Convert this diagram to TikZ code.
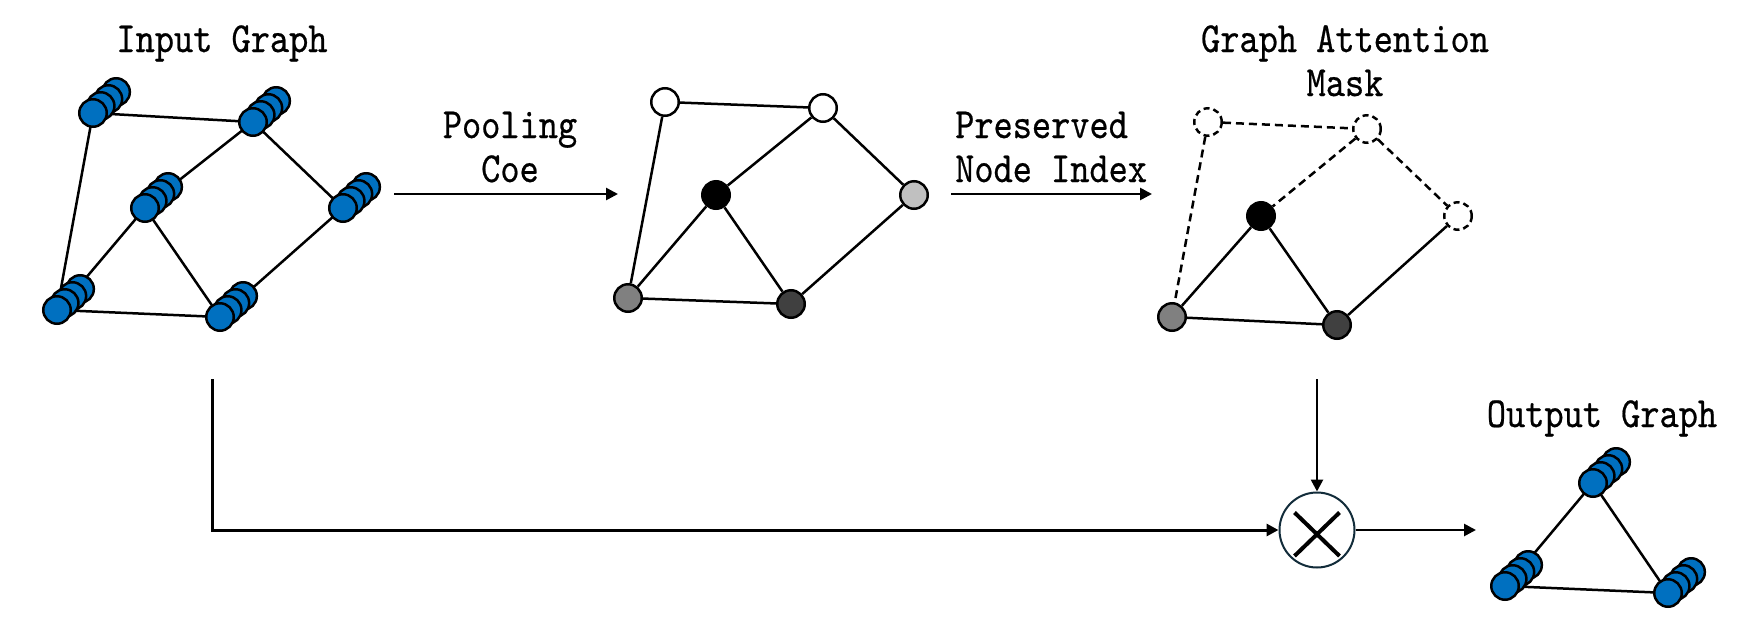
\documentclass[tikz,border=0pt]{standalone}
\usepackage{fontspec}
\newfontfamily\labfont[FakeStretch=0.85,FakeBold=0.5]{lmmono10-regular.otf}
\usetikzlibrary{arrows.meta,backgrounds,calc}
\definecolor{nblue}{RGB}{0,112,192}
\definecolor{ngray}{RGB}{128,128,128}
\definecolor{ndark}{RGB}{64,64,64}
\definecolor{nlight}{RGB}{192,192,192}
\definecolor{navy}{RGB}{18,44,58}
\newcommand\fstack[3]{%
  \node[bnode] (#1-3) at (#2+23.1,#3-21) {};
  \node[bnode] (#1-2) at (#2+15.4,#3-14) {};
  \node[bnode] (#1-1) at (#2+7.7,#3-7) {};
  \node[bnode] (#1) at (#2,#3) {};}
\begin{document}
\begin{tikzpicture}[x=1pt,y=-1pt,
  lbl/.style={font=\labfont\fontsize{43}{44}\selectfont, inner sep=0pt},
  gn/.style={circle, draw=black, line width=2.5pt, minimum size=27.5pt, inner sep=0pt},
  bnode/.style={gn, fill=nblue},
  dn/.style={gn, fill=white, dash pattern=on 6pt off 4pt},
  edge/.style={line width=2.5pt},
  dedge/.style={edge, dash pattern=on 8pt off 5pt},
  arr/.style={line width=2.6pt, -{Triangle[length=12pt,width=12pt]}},
]
\begin{scope}[on background layer]
  \fill[white] (0,0) rectangle (1741,635);
\end{scope}
\useasboundingbox (0,0) rectangle (1741,635);

% ---------- Input graph ----------
\fstack{A}{93}{113}
\fstack{B}{253}{122}
\fstack{C}{145}{208}
\fstack{D}{343}{208}
\fstack{E}{57}{310}
\fstack{F}{220}{317}
\begin{scope}[on background layer]
  \draw[edge] (A.center) -- (B.center);
  \draw[edge] (A.center) -- (E.center);
  \draw[edge] (B.center) -- (C-1.center);
  \draw[edge] (B.center) -- (D.center);
  \draw[edge] (C.center) -- (E-1.center);
  \draw[edge] (C.center) -- (F.center);
  \draw[edge] (E.center) -- (F.center);
  \draw[edge] (D.center) -- (F-1.center);
\end{scope}

% ---------- Pooled graph ----------
\node[gn, fill=white]  (w1) at (665,102) {};
\node[gn, fill=white]  (w2) at (823,108) {};
\node[gn, fill=black]  (k)  at (716,195) {};
\node[gn, fill=nlight] (l)  at (914,195) {};
\node[gn, fill=ngray]  (g)  at (628,298) {};
\node[gn, fill=ndark]  (d)  at (791,304) {};
\draw[edge] (w1) -- (w2);
\draw[edge] (w1) -- (g);
\draw[edge] (w2) -- (k);
\draw[edge] (w2) -- (l);
\draw[edge] (l) -- (d);
\draw[edge] (k) -- (g);
\draw[edge] (k) -- (d);
\draw[edge] (g) -- (d);

% ---------- Attention mask graph ----------
\node[dn]              (m1) at (1208,122) {};
\node[dn]              (m2) at (1367,129) {};
\node[dn]              (m3) at (1458,216) {};
\node[gn, fill=black]  (mk) at (1261,216) {};
\node[gn, fill=ngray]  (mg) at (1172,317) {};
\node[gn, fill=ndark]  (md) at (1337,325) {};
\draw[dedge] (m1) -- (m2);
\draw[dedge] (m1) -- (mg);
\draw[dedge] (m2) -- (mk);
\draw[dedge] (m2) -- (m3);
\draw[edge] (m3) -- (md);
\draw[edge] (mk) -- (mg);
\draw[edge] (mk) -- (md);
\draw[edge] (mg) -- (md);

% ---------- Output graph ----------
\fstack{ot}{1593}{483}
\fstack{ol}{1505}{586}
\fstack{or}{1668}{593}
\begin{scope}[on background layer]
  \draw[edge] (ot.center) -- (ol-1.center);
  \draw[edge] (ot.center) -- (or.center);
  \draw[edge] (ol.center) -- (or.center);
\end{scope}

% ---------- Multiplication ----------
\node[circle, draw=navy, line width=2pt, minimum size=75pt, inner sep=0pt] (mul) at (1317,530) {};
\draw[line width=4pt] ([shift={(-22.5,-17.5)}]mul.center) -- ([shift={(22.5,26)}]mul.center);
\draw[line width=4pt] ([shift={(22.5,-17.5)}]mul.center) -- ([shift={(-22.5,26)}]mul.center);

% ---------- Arrows ----------
\coordinate (a1s) at (394,194);
\coordinate (a1e) at (618,194);
\draw[arr] (a1s) -- (a1e);
\coordinate (a2s) at (951,194);
\coordinate (a2e) at (1152,194);
\draw[arr] (a2s) -- (a2e);
\coordinate (ms) at (1317,379);
\draw[arr] (ms) -- (mul.north);
\coordinate (is) at (212,379);
\draw[arr, line width=3pt] (is) |- (mul.west);
\coordinate (oe) at (1476,530);
\draw[arr] (mul.east) -- (oe);

% ---------- Labels ----------
\node[lbl, anchor=base] (tin) at (222,52) {Input Graph};
\node[lbl, anchor=base, align=center] (tpool) at (510,182) {Pooling\\Coe};
\node[lbl, anchor=base west, align=left] (tpres) at (955,182) {Preserved\\Node Index};
\node[lbl, anchor=base, align=center] (tgam) at (1345,96) {Graph Attention\\Mask};
\node[lbl, anchor=base] (tout) at (1602,427) {Output Graph};
\end{tikzpicture}
\end{document}
